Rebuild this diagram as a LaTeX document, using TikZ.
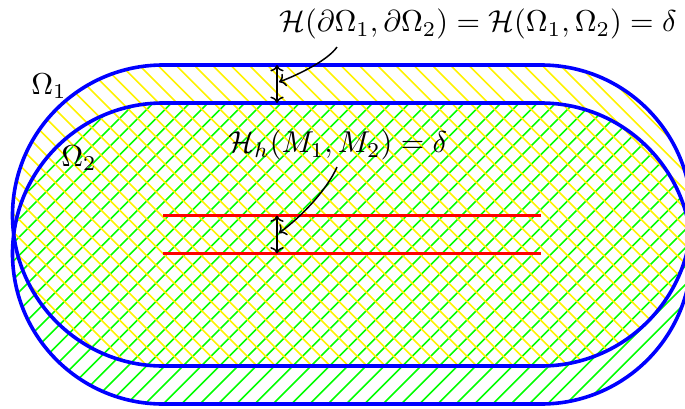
\documentclass[tikz,border=0pt]{standalone}
\usetikzlibrary{arrows.meta}
\begin{document}
\begin{tikzpicture}[x=1pt,y=-1pt,
  bnd/.style={draw=blue,line width=3.6pt},
  axis/.style={draw=red,line width=3.2pt},
  marrow/.style={draw=black,line width=1.5pt},
  hatchg/.style={draw=green,line width=1.6pt},
  hatchy/.style={draw=yellow,line width=1.6pt},
  lbl/.style={inner sep=0pt,scale=3.02}]
\useasboundingbox (0,0) rectangle (685,408);
\clip (0,0) rectangle (685,408);
% Omega_2 (lower) green hatch
\begin{scope}
\clip (163,103) -- (541,103) arc[start angle=90,end angle=-90,radius=150.5pt] -- (163,404) arc[start angle=270,end angle=90,radius=150.5pt] -- cycle;
\foreach \c in {0,18.3,...,1110} {\draw[hatchg] (\c,0) -- (\c-420,420);}
\end{scope}
% Omega_1 (upper) yellow hatch
\begin{scope}
\clip (163,65) -- (541,65) arc[start angle=90,end angle=-90,radius=150.5pt] -- (163,366) arc[start angle=270,end angle=90,radius=150.5pt] -- cycle;
\foreach \c in {-420,-401.7,...,700} {\draw[hatchy] (\c,0) -- (\c+420,420);}
\end{scope}
\draw[bnd] (163,103) -- (541,103) arc[start angle=90,end angle=-90,radius=150.5pt] -- (163,404) arc[start angle=270,end angle=90,radius=150.5pt] -- cycle;
\draw[bnd] (163,65) -- (541,65) arc[start angle=90,end angle=-90,radius=150.5pt] -- (163,366) arc[start angle=270,end angle=90,radius=150.5pt] -- cycle;
% medial axes
\coordinate (m1a) at (163,215.5);
\coordinate (m1b) at (541,215.5);
\coordinate (m2a) at (163,253.5);
\coordinate (m2b) at (541,253.5);
\draw[axis] (m1a) -- (m1b);
\draw[axis] (m2a) -- (m2b);
% distance arrows
\coordinate (t1) at (277,65);
\coordinate (t2) at (277,103);
\coordinate (c1) at (277,215.5);
\coordinate (c2) at (277,253.5);
\draw[marrow,{To[scale=1.3]}-{To[scale=1.3]}] (t1) -- (t2);
\draw[marrow,{To[scale=1.3]}-{To[scale=1.3]}] (c1) -- (c2);
% labels
\node[lbl] (o1) at (49,86) {$\Omega_1$};
\node[lbl] (o2) at (79,158) {$\Omega_2$};
\node[lbl] (hd) at (478,24) {$\mathcal{H}(\partial\Omega_1,\partial\Omega_2)=\mathcal{H}(\Omega_1,\Omega_2)=\delta$};
\node[lbl] (hm) at (338,145) {$\mathcal{H}_h(M_1,M_2)=\delta$};
\coordinate (s1) at (337,47);
\coordinate (e1) at (279,82);
\coordinate (s2) at (337,167);
\coordinate (e2) at (279,233);
\draw[marrow,-{To[scale=1.3]}] (s1) .. controls (328,60) and (300,74) .. (e1);
\draw[marrow,-{To[scale=1.3]}] (s2) .. controls (327,190) and (300,218) .. (e2);
\end{tikzpicture}
\end{document}
